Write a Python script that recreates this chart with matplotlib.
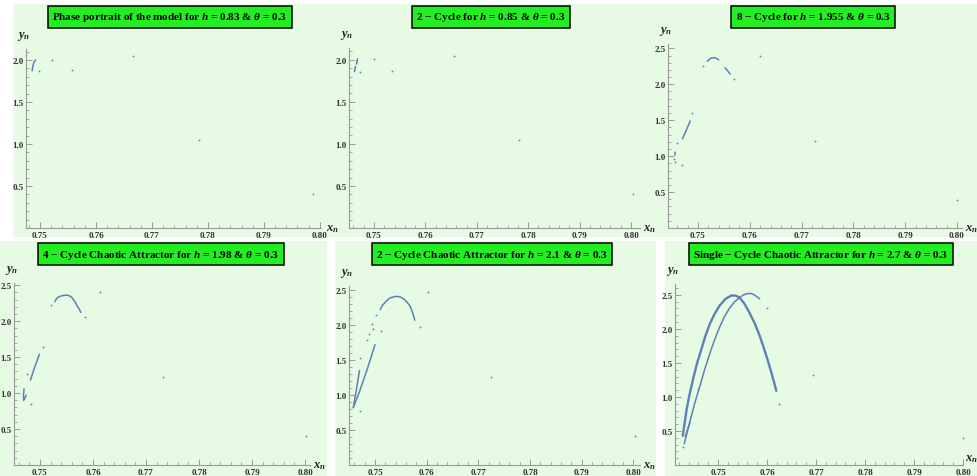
import matplotlib
matplotlib.use('Agg')
import matplotlib.pyplot as plt
from matplotlib.patches import Rectangle
from matplotlib.ticker import MultipleLocator, FormatStrFormatter

plt.rcParams['font.family'] = ['Liberation Serif', 'DejaVu Serif']
plt.rcParams['font.weight'] = 'bold'
plt.rcParams['mathtext.fontset'] = 'custom'
plt.rcParams['mathtext.it'] = 'Liberation Serif:italic:bold'
plt.rcParams['mathtext.rm'] = 'Liberation Serif:bold'
plt.rcParams['mathtext.bf'] = 'Liberation Serif:bold'

# titles ========================================================================
titles = [
    r"Phase portrait of the model for $h$ = 0.83 & $\theta$ = 0.3",
    r"2 $-$ Cycle for $h$ = 0.85 & $\theta$ = 0.3",
    r"8 $-$ Cycle for $h$ = 1.955 & $\theta$ = 0.3",
    r"4 $-$ Cycle Chaotic Attractor for $h$ = 1.98 & $\theta$ = 0.3",
    r"2 $-$ Cycle Chaotic Attractor for $h$ = 2.1 & $\theta$ = 0.3",
    r"Single $-$ Cycle Chaotic Attractor for $h$ = 2.7 & $\theta$ = 0.3",
]

# orbit points (x_n, y_n) =======================================================
# h = 0.83
arc1_x = [0.7492, 0.7489, 0.7487, 0.7486]
arc1_y = [2.00, 1.97, 1.92, 1.87]
dots1_x = [0.7498, 0.7521, 0.7557, 0.7666, 0.7784, 0.7988]
dots1_y = [1.87, 2.00, 1.88, 2.05, 1.05, 0.40]

# h = 0.85
arc2a_x = [0.7468, 0.7466]
arc2a_y = [2.01, 1.95]
arc2b_x = [0.7464, 0.7462]
arc2b_y = [1.92, 1.86]
dots2_x = [0.7473, 0.7500, 0.7536, 0.7656, 0.7783, 0.8004]
dots2_y = [1.86, 2.01, 1.87, 2.04, 1.05, 0.40]

# h = 1.955
arc3a_x = [0.7455, 0.7455]
arc3a_y = [1.06, 1.01]
arc3b_x = [0.7470, 0.7478, 0.7485]
arc3b_y = [1.24, 1.37, 1.49]
arc3c_x = [0.7518, 0.7524, 0.7531, 0.7536, 0.7540]
arc3c_y = [2.32, 2.36, 2.37, 2.36, 2.34]
arc3d_x = [0.7552, 0.7557, 0.7562]
arc3d_y = [2.23, 2.19, 2.14]
dots3_x = [0.7459, 0.7454, 0.7455, 0.7470, 0.7489, 0.7510, 0.7569, 0.7620, 0.7726, 0.8000]
dots3_y = [1.18, 0.96, 0.92, 0.87, 1.60, 2.25, 2.08, 2.39, 1.21, 0.39]

# h = 1.98
arc4a_x = [0.7470, 0.7469, 0.7469, 0.7471, 0.7474]
arc4a_y = [1.06, 0.98, 0.90, 0.92, 0.97]
arc4b_x = [0.7482, 0.7490, 0.7499]
arc4b_y = [1.18, 1.36, 1.54]
arc4c_x = [0.7528, 0.7531, 0.7534, 0.7540, 0.7547, 0.7552, 0.7556, 0.7560, 0.7563, 0.7567, 0.7570, 0.7574, 0.7577]
arc4c_y = [2.27, 2.31, 2.33, 2.35, 2.36, 2.36, 2.35, 2.33, 2.30, 2.26, 2.21, 2.17, 2.12]
dots4_x = [0.7475, 0.7484, 0.7505, 0.7520, 0.7585, 0.7613, 0.7733, 0.8002]
dots4_y = [1.27, 0.85, 1.64, 2.22, 2.06, 2.40, 1.23, 0.40]

# h = 2.1
arc5a_x = [0.7458, 0.7464, 0.7470]
arc5a_y = [0.82, 1.08, 1.35]
arc5b_x = [0.7458, 0.7470, 0.7485, 0.7500]
arc5b_y = [0.82, 1.05, 1.37, 1.72]
arc5c_x = [0.7510, 0.7514, 0.7519, 0.7524, 0.7529, 0.7534, 0.7539, 0.7545, 0.7550,
           0.7554, 0.7558, 0.7562, 0.7565, 0.7568, 0.7570, 0.7574, 0.7577]
arc5c_y = [2.22, 2.28, 2.32, 2.36, 2.39, 2.40, 2.41, 2.41, 2.40,
           2.38, 2.36, 2.33, 2.30, 2.27, 2.23, 2.15, 2.07]
dots5_x = [0.7471, 0.7484, 0.7488, 0.7494, 0.7501, 0.7497, 0.7512, 0.7471, 0.7587, 0.7603, 0.7724, 0.8002]
dots5_y = [1.53, 1.79, 1.88, 2.01, 2.15, 1.95, 1.91, 0.77, 1.98, 2.47, 1.26, 0.41]

# h = 2.7
arc6a_x = [0.7428, 0.7432, 0.7436, 0.7442, 0.7449, 0.7457, 0.7466, 0.7474, 0.7483, 0.7493,
           0.7503, 0.7515, 0.7527, 0.7536, 0.7544, 0.7554, 0.7564, 0.7575, 0.7585, 0.7593,
           0.7601, 0.7610, 0.7619]
arc6a_y = [0.43, 0.62, 0.82, 1.04, 1.26, 1.49, 1.70, 1.89, 2.07, 2.22,
           2.34, 2.44, 2.49, 2.49, 2.46, 2.37, 2.24, 2.08, 1.90, 1.73,
           1.55, 1.33, 1.09]
arc6b_x = [0.7431, 0.7437, 0.7443, 0.7453, 0.7463, 0.7473, 0.7483, 0.7493, 0.7503, 0.7513,
           0.7524, 0.7534, 0.7544, 0.7552, 0.7561, 0.7568, 0.7574, 0.7580, 0.7585]
arc6b_y = [0.31, 0.48, 0.65, 0.92, 1.16, 1.41, 1.63, 1.84, 2.02, 2.18,
           2.31, 2.40, 2.46, 2.50, 2.52, 2.52, 2.50, 2.47, 2.44]
arc6c_x = [0.7433, 0.7443]
arc6c_y = [0.42, 0.63]
dots6_x = [0.7428, 0.7459, 0.7599, 0.7625, 0.7693, 0.8000]
dots6_y = [0.27, 1.11, 2.30, 0.90, 1.32, 0.40]

# layout (pixels) ===============================================================
W, H = 977, 477
# (left, top, right, bottom) of each plot area
boxes = [(26, 50, 321, 229), (349, 49, 640, 229), (668, 45, 962, 229),
         (14, 284, 310, 466), (349, 287, 640, 466), (675, 285, 963, 466)]
xlims = [(0.7475, 0.8002), (0.74514, 0.80175), (0.74421, 0.80097),
         (0.74510, 0.80094), (0.74497, 0.80126), (0.74122, 0.80000)]
ylims = [(0, 2.13), (0, 2.14), (0, 2.56), (0, 2.53), (0, 2.56), (0, 2.66)]
title_pos = [(170, 18), (491, 18), (813, 18), (161, 255), (492, 255), (821, 255)]
# offset (points) of the x_n label from the end of the axis
xlabel_off = [(3.5, 0), (2, 0), (2, 0), (2.5, 0), (2, 0), (1.5, 5)]
# panel backgrounds (left, top, right, bottom)
backs = [(13, 5, 977, 238), (0, 242, 327, 477), (335, 242, 656, 477), (665, 242, 977, 477)]

panels = [
    ([(arc1_x, arc1_y)], (dots1_x, dots1_y)),
    ([(arc2a_x, arc2a_y), (arc2b_x, arc2b_y)], (dots2_x, dots2_y)),
    ([(arc3a_x, arc3a_y), (arc3b_x, arc3b_y), (arc3c_x, arc3c_y), (arc3d_x, arc3d_y)], (dots3_x, dots3_y)),
    ([(arc4a_x, arc4a_y), (arc4b_x, arc4b_y), (arc4c_x, arc4c_y)], (dots4_x, dots4_y)),
    ([(arc5a_x, arc5a_y), (arc5b_x, arc5b_y), (arc5c_x, arc5c_y)], (dots5_x, dots5_y)),
    ([(arc6a_x, arc6a_y), (arc6b_x, arc6b_y), (arc6c_x, arc6c_y)], (dots6_x, dots6_y)),
]

BLUE = '#5E81B5'
BG = '#E6FAE4'
AXC = '#9a9a9a'


def fbox(l, t, r, b):
    return [l / W, 1 - b / H, (r - l) / W, (b - t) / H]


fig = plt.figure(figsize=(W / 100, H / 100), dpi=100)
fig.patch.set_facecolor('white')

for l, t, r, b in backs:
    x0, y0, w, h = fbox(l, t, r, b)
    fig.add_artist(Rectangle((x0, y0), w, h, transform=fig.transFigure,
                             facecolor=BG, edgecolor='none', zorder=-10))

for i, (arcs, dots) in enumerate(panels):
    ax = fig.add_axes(fbox(*boxes[i]))
    ax.set_facecolor('none')
    for xs, ys in arcs:
        lw = 1.7 if xs is arc6a_x else 1.1
        ax.plot(xs, ys, color=BLUE, lw=lw, solid_capstyle='round',
                solid_joinstyle='round', clip_on=False)
    ax.plot(dots[0], dots[1], 'o', color=BLUE, ms=1.3, mew=0, clip_on=False)

    ax.set_xlim(*xlims[i])
    ax.set_ylim(*ylims[i])
    for s in ['top', 'right']:
        ax.spines[s].set_visible(False)
    for s in ['left', 'bottom']:
        ax.spines[s].set_color(AXC)
        ax.spines[s].set_linewidth(0.8)

    ax.xaxis.set_major_locator(MultipleLocator(0.01))
    ax.xaxis.set_minor_locator(MultipleLocator(0.002))
    ax.yaxis.set_major_locator(MultipleLocator(0.5))
    ax.yaxis.set_minor_locator(MultipleLocator(0.1))
    ax.xaxis.set_major_formatter(FormatStrFormatter('%.2f'))
    ax.yaxis.set_major_formatter(plt.FuncFormatter(lambda v, p: '' if v == 0 else '%.1f' % v))
    ax.tick_params(which='major', direction='in', length=4, width=0.7, color=AXC,
                   labelsize=6.5, labelcolor='#333333', pad=2)
    ax.tick_params(axis='y', which='major', pad=1.5)
    ax.tick_params(which='minor', direction='in', length=2, width=0.6, color=AXC)

    ax.annotate(r'$x_n$', xy=(1, 0), xycoords='axes fraction', xytext=xlabel_off[i],
                textcoords='offset points', ha='left', va='center', fontsize=9,
                color='#222222', annotation_clip=False)
    ax.annotate(r'$y_n$', xy=(0, 1), xycoords='axes fraction', xytext=(-2, 5),
                textcoords='offset points', ha='center', va='bottom', fontsize=9,
                color='#222222', annotation_clip=False)

    tx, ty = title_pos[i]
    fig.text(tx / W, 1 - ty / H, titles[i], ha='center', va='center', fontsize=8,
             fontweight='bold', color='black',
             bbox=dict(boxstyle='square,pad=0.38', facecolor='#22EE22',
                       edgecolor='black', linewidth=1.1))

fig.savefig('out.png', dpi=100)
